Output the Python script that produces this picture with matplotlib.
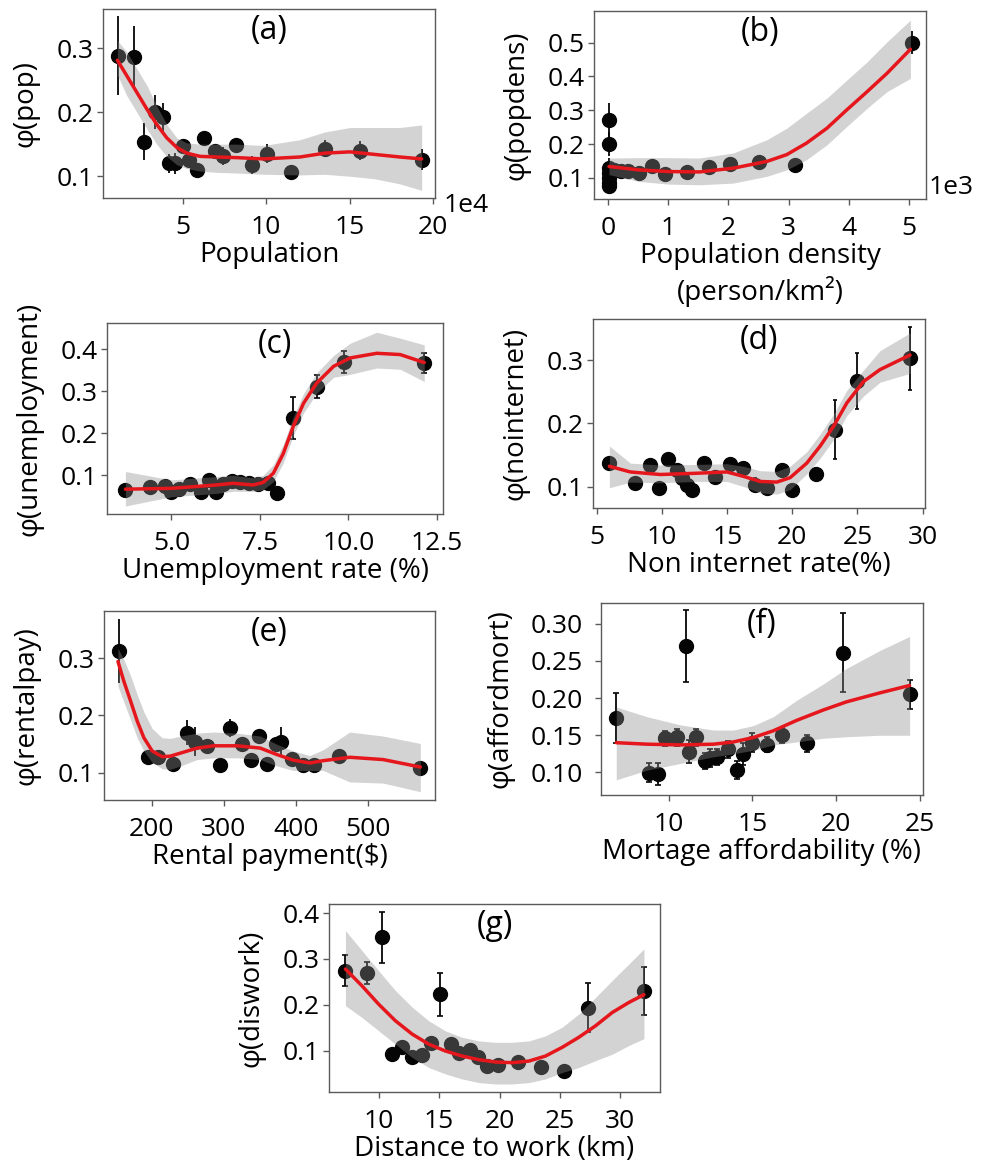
import numpy as np
import matplotlib
matplotlib.use("Agg")
import matplotlib.pyplot as plt
from matplotlib.ticker import FormatStrFormatter

plt.rcParams['font.family'] = ['Open Sans', 'DejaVu Sans']

# ---- (a) population (x in units of 1e4) ----
a_x = [1.12, 2.11, 2.71, 3.37, 3.82, 4.16, 4.56, 5.02, 5.38, 5.86, 6.29, 6.91, 7.39, 8.21, 9.14, 10.04, 11.47, 13.53, 15.62, 19.30]
a_y = [0.288, 0.286, 0.154, 0.200, 0.193, 0.120, 0.120, 0.147, 0.126, 0.110, 0.160, 0.140, 0.132, 0.149, 0.118, 0.135, 0.106, 0.143, 0.140, 0.126]
a_err = [0.062, 0.049, 0.029, 0.026, 0.022, 0.015, 0.017, 0.010, 0.010, 0.011, 0.009, 0.010, 0.014, 0.011, 0.014, 0.015, 0.012, 0.013, 0.015, 0.017]
a_cx = [1.10, 1.66, 2.26, 2.86, 3.45, 4.05, 4.65, 5.25, 6.05, 7.04, 8.24, 9.84, 12.03, 13.5, 15.0, 16.5, 18.0, 19.3]
a_cy = [0.281, 0.257, 0.231, 0.205, 0.181, 0.160, 0.145, 0.136, 0.131, 0.130, 0.129, 0.127, 0.130, 0.136, 0.138, 0.134, 0.130, 0.127]
a_lo = [0.258, 0.226, 0.200, 0.174, 0.150, 0.131, 0.118, 0.112, 0.108, 0.106, 0.105, 0.103, 0.102, 0.103, 0.100, 0.096, 0.088, 0.078]
a_hi = [0.312, 0.294, 0.268, 0.242, 0.210, 0.181, 0.160, 0.152, 0.150, 0.150, 0.150, 0.148, 0.157, 0.169, 0.176, 0.176, 0.176, 0.180]

# ---- (b) population density (x in units of 1e3) ----
b_x = [0.01, 0.01, 0.01, 0.01, 0.01, 0.01, 0.01, 0.10, 0.21, 0.32, 0.51, 0.73, 0.94, 1.31, 1.67, 2.02, 2.51, 3.11, 5.05]
b_y = [0.272, 0.201, 0.129, 0.115, 0.100, 0.085, 0.075, 0.125, 0.120, 0.122, 0.115, 0.136, 0.113, 0.117, 0.131, 0.141, 0.147, 0.139, 0.500]
b_err = [0.050, 0.035, 0.030, 0.025, 0.020, 0.015, 0.010, 0.006, 0.005, 0.005, 0.005, 0.005, 0.005, 0.005, 0.005, 0.005, 0.005, 0.005, 0.034]
b_cx = [0.01, 0.5, 1.0, 1.52, 2.08, 2.64, 2.97, 3.30, 3.64, 3.97, 4.31, 4.64, 5.03]
b_cy = [0.134, 0.124, 0.119, 0.118, 0.129, 0.149, 0.169, 0.203, 0.247, 0.301, 0.355, 0.409, 0.480]
b_lo = [0.110, 0.090, 0.082, 0.080, 0.085, 0.105, 0.124, 0.154, 0.198, 0.252, 0.306, 0.355, 0.394]
b_hi = [0.159, 0.160, 0.160, 0.159, 0.174, 0.213, 0.247, 0.291, 0.336, 0.389, 0.443, 0.502, 0.566]

# ---- (c) unemployment ----
c_x = [3.70, 4.39, 4.81, 5.00, 5.21, 5.52, 5.83, 6.06, 6.25, 6.46, 6.72, 6.95, 7.20, 7.45, 7.72, 7.97, 8.42, 9.12, 9.86, 12.14]
c_y = [0.065, 0.071, 0.075, 0.061, 0.067, 0.079, 0.061, 0.090, 0.061, 0.079, 0.087, 0.083, 0.081, 0.079, 0.081, 0.059, 0.236, 0.311, 0.369, 0.367]
c_err = [0.006, 0.005, 0.005, 0.005, 0.005, 0.005, 0.005, 0.005, 0.005, 0.005, 0.005, 0.005, 0.005, 0.005, 0.005, 0.005, 0.050, 0.028, 0.027, 0.024]
c_cx = [3.70, 5.0, 6.27, 6.74, 7.31, 7.59, 7.88, 8.16, 8.44, 8.73, 9.10, 9.58, 10.05, 10.8, 11.46, 12.14]
c_cy = [0.067, 0.069, 0.077, 0.081, 0.077, 0.083, 0.105, 0.152, 0.216, 0.271, 0.319, 0.359, 0.379, 0.390, 0.387, 0.368]
c_lo = [0.027, 0.049, 0.057, 0.062, 0.062, 0.066, 0.085, 0.130, 0.194, 0.248, 0.295, 0.333, 0.340, 0.355, 0.352, 0.323]
c_hi = [0.109, 0.089, 0.097, 0.100, 0.094, 0.100, 0.125, 0.174, 0.238, 0.294, 0.343, 0.385, 0.414, 0.440, 0.426, 0.410]

# ---- (d) non internet ----
d_x = [5.95, 7.94, 9.04, 9.78, 10.42, 11.14, 11.52, 11.91, 12.29, 13.18, 14.08, 15.23, 16.18, 17.15, 18.04, 19.19, 20.01, 21.80, 23.29, 24.95, 29.04]
d_y = [0.137, 0.106, 0.134, 0.098, 0.143, 0.126, 0.113, 0.103, 0.095, 0.137, 0.115, 0.136, 0.129, 0.103, 0.098, 0.126, 0.094, 0.120, 0.190, 0.267, 0.303]
d_err = [0.006, 0.008, 0.008, 0.008, 0.007, 0.008, 0.008, 0.008, 0.008, 0.006, 0.009, 0.008, 0.008, 0.010, 0.009, 0.009, 0.009, 0.009, 0.047, 0.045, 0.050]
d_cx = [5.95, 7.56, 9.86, 12.67, 14.97, 16.25, 17.53, 18.81, 19.83, 21.11, 22.14, 23.16, 24.18, 25.46, 26.74, 29.04]
d_cy = [0.132, 0.123, 0.119, 0.121, 0.123, 0.116, 0.108, 0.107, 0.114, 0.137, 0.164, 0.195, 0.232, 0.266, 0.285, 0.308]
d_lo = [0.098, 0.107, 0.106, 0.108, 0.108, 0.100, 0.090, 0.088, 0.095, 0.120, 0.145, 0.174, 0.212, 0.243, 0.265, 0.279]
d_hi = [0.164, 0.137, 0.134, 0.135, 0.136, 0.132, 0.125, 0.124, 0.132, 0.155, 0.183, 0.214, 0.252, 0.284, 0.315, 0.343]

# ---- (e) rental payment ----
e_x = [154.8, 194.5, 209.2, 230.0, 249.3, 259.9, 276.0, 294.5, 308.3, 324.4, 337.3, 348.8, 359.0, 372.8, 379.7, 394.5, 409.7, 424.4, 459.0, 571.9]
e_y = [0.312, 0.128, 0.128, 0.115, 0.170, 0.154, 0.147, 0.113, 0.178, 0.151, 0.123, 0.164, 0.116, 0.150, 0.154, 0.124, 0.113, 0.113, 0.130, 0.109]
e_err = [0.056, 0.006, 0.006, 0.006, 0.022, 0.025, 0.010, 0.008, 0.016, 0.010, 0.009, 0.009, 0.008, 0.010, 0.025, 0.008, 0.010, 0.008, 0.009, 0.006]
e_cx = [153.4, 161.7, 170.9, 180.1, 189.3, 200.8, 214.6, 226.1, 244.5, 262.9, 285.9, 318.2, 350.4, 372.8, 395.9, 418.9, 437.3, 474.2, 520.3, 571.9]
e_cy = [0.294, 0.259, 0.225, 0.190, 0.161, 0.138, 0.128, 0.129, 0.136, 0.143, 0.147, 0.147, 0.143, 0.132, 0.122, 0.117, 0.121, 0.127, 0.123, 0.110]
e_lo = [0.251, 0.223, 0.192, 0.161, 0.138, 0.118, 0.107, 0.106, 0.114, 0.123, 0.126, 0.126, 0.123, 0.112, 0.104, 0.104, 0.104, 0.084, 0.082, 0.067]
e_hi = [0.317, 0.297, 0.269, 0.236, 0.206, 0.177, 0.161, 0.160, 0.165, 0.169, 0.171, 0.169, 0.164, 0.150, 0.138, 0.130, 0.140, 0.171, 0.164, 0.151]

# ---- (f) mortgage affordability ----
f_x = [6.88, 8.81, 9.35, 9.76, 10.50, 11.03, 11.23, 11.65, 12.18, 12.48, 12.92, 13.57, 14.07, 14.46, 14.96, 15.89, 16.79, 18.23, 20.38, 24.38]
f_y = [0.173, 0.0996, 0.098, 0.146, 0.147, 0.270, 0.128, 0.147, 0.115, 0.119, 0.121, 0.131, 0.103, 0.125, 0.140, 0.137, 0.150, 0.139, 0.261, 0.205]
f_err = [0.034, 0.013, 0.015, 0.010, 0.011, 0.048, 0.016, 0.011, 0.011, 0.012, 0.011, 0.011, 0.012, 0.015, 0.013, 0.010, 0.010, 0.012, 0.053, 0.019]
f_cx = [6.88, 8.71, 10.69, 12.68, 13.87, 15.06, 16.25, 17.64, 19.23, 20.62, 22.60, 24.38]
f_cy = [0.140, 0.138, 0.137, 0.138, 0.141, 0.147, 0.156, 0.170, 0.184, 0.195, 0.207, 0.217]
f_lo = [0.090, 0.103, 0.112, 0.121, 0.125, 0.130, 0.137, 0.141, 0.146, 0.148, 0.150, 0.150]
f_hi = [0.188, 0.175, 0.164, 0.157, 0.157, 0.163, 0.175, 0.197, 0.219, 0.240, 0.264, 0.283]

# ---- (g) distance to work ----
g_x = [7.18, 9.03, 10.28, 11.13, 11.93, 12.76, 13.59, 14.36, 15.11, 15.97, 16.63, 17.54, 18.18, 19.00, 19.89, 21.55, 23.43, 25.36, 27.35, 31.99]
g_y = [0.274, 0.269, 0.347, 0.093, 0.108, 0.086, 0.090, 0.117, 0.223, 0.115, 0.095, 0.102, 0.086, 0.066, 0.068, 0.075, 0.064, 0.055, 0.194, 0.230]
g_err = [0.034, 0.024, 0.056, 0.004, 0.004, 0.004, 0.004, 0.004, 0.047, 0.004, 0.004, 0.004, 0.004, 0.004, 0.004, 0.004, 0.004, 0.004, 0.054, 0.053]
g_cx = [7.24, 8.62, 10.0, 11.38, 12.76, 14.14, 15.52, 16.9, 18.3, 19.67, 21.05, 22.43, 23.81, 25.19, 26.57, 27.95, 29.33, 30.71, 31.96]
g_cy = [0.278, 0.241, 0.201, 0.165, 0.136, 0.114, 0.099, 0.088, 0.080, 0.075, 0.0735, 0.077, 0.088, 0.107, 0.129, 0.154, 0.183, 0.205, 0.222]
g_lo = [0.198, 0.172, 0.143, 0.114, 0.085, 0.063, 0.049, 0.038, 0.030, 0.027, 0.027, 0.030, 0.038, 0.052, 0.063, 0.078, 0.092, 0.111, 0.126]
g_hi = [0.362, 0.318, 0.274, 0.231, 0.195, 0.165, 0.143, 0.129, 0.121, 0.118, 0.118, 0.121, 0.132, 0.151, 0.180, 0.216, 0.253, 0.289, 0.322]

W, H = 983, 1166
fig = plt.figure(figsize=(W / 100, H / 100), dpi=100)


def make_ax(l, r, t, b):
    return fig.add_axes([l / W, 1 - b / H, (r - l) / W, (b - t) / H])


def panel(ax, x, y, err, cx, cy, lo, hi, tag, xlab, ylab, xlim, ylim, xt, yt, cap=0, ypad=3):
    ax.errorbar(x, y, yerr=err, fmt='o', color='#050505', ms=10, elinewidth=1.3,
                capsize=cap, capthick=1.2, zorder=2)
    ax.fill_between(cx, lo, hi, color='0.55', alpha=0.38, lw=0, zorder=3)
    ax.plot(cx, cy, color='#e5161c', lw=2.5, zorder=4,
            solid_capstyle='round', solid_joinstyle='round')
    ax.set_xlim(*xlim)
    ax.set_ylim(*ylim)
    ax.set_xticks(xt)
    ax.set_yticks(yt)
    ax.text(0.5, 0.975, tag, transform=ax.transAxes, ha='center', va='top', fontsize=23)
    ax.set_xlabel(xlab, fontsize=20, labelpad=1, linespacing=1.25)
    ax.set_ylabel(ylab, fontsize=20, labelpad=12)
    for s in ax.spines.values():
        s.set_color('#5a5a5a')
        s.set_linewidth(1.0)
    ax.tick_params(colors='#5a5a5a', labelcolor='black', labelsize=19, length=4, width=1.0)
    ax.tick_params(axis='x', pad=8)
    ax.tick_params(axis='y', pad=ypad)


ax = make_ax(103, 435, 9, 198)
panel(ax, a_x, a_y, a_err, a_cx, a_cy, a_lo, a_hi, '(a)', 'Population', 'φ(pop)',
      (0.24, 20.1), (0.066, 0.361), [5, 10, 15, 20], [0.1, 0.2, 0.3])
fig.text(444 / W, 1 - 205 / H, '1e4', fontsize=19, va='center', ha='left')

ax = make_ax(594, 926, 11, 199)
panel(ax, b_x, b_y, b_err, b_cx, b_cy, b_lo, b_hi, '(b)', 'Population density\n(person/km²)', 'φ(popdens)',
      (-0.24, 5.29), (0.038, 0.593), [0, 1, 2, 3, 4, 5], [0.1, 0.2, 0.3, 0.4, 0.5])
fig.text(929 / W, 1 - 188 / H, '1e3', fontsize=19, va='center', ha='left')

ax = make_ax(107, 443, 323, 514)
panel(ax, c_x, c_y, c_err, c_cx, c_cy, c_lo, c_hi, '(c)', 'Unemployment rate (%)', 'φ(unemployment)',
      (3.18, 12.67), (0.008, 0.462), [5, 7.5, 10, 12.5], [0.1, 0.2, 0.3, 0.4], cap=2.5)
ax.xaxis.set_major_formatter(FormatStrFormatter('%.1f'))

ax = make_ax(593, 925, 319, 508)
panel(ax, d_x, d_y, d_err, d_cx, d_cy, d_lo, d_hi, '(d)', 'Non internet rate(%)', 'φ(nointernet)',
      (4.69, 30.19), (0.066, 0.365), [5, 10, 15, 20, 25, 30], [0.1, 0.2, 0.3], cap=1.5)

ax = make_ax(104, 435, 611, 800)
panel(ax, e_x, e_y, e_err, e_cx, e_cy, e_lo, e_hi, '(e)', 'Rental payment($)', 'φ(rentalpay)',
      (134.1, 592.2), (0.0525, 0.382), [200, 300, 400, 500], [0.1, 0.2, 0.3])

ax = make_ax(601, 923, 603, 795)
panel(ax, f_x, f_y, f_err, f_cx, f_cy, f_lo, f_hi, '(f)', 'Mortage affordability (%)', 'φ(affordmort)',
      (5.97, 25.18), (0.0696, 0.328), [10, 15, 20, 25], [0.10, 0.15, 0.20, 0.25, 0.30], cap=2.5, ypad=9)
ax.yaxis.set_major_formatter(FormatStrFormatter('%.2f'))

ax = make_ax(329, 660, 904, 1092)
panel(ax, g_x, g_y, g_err, g_cx, g_cy, g_lo, g_hi, '(g)', 'Distance to work (km)', 'φ(diswork)',
      (5.88, 33.29), (0.0095, 0.42), [10, 15, 20, 25, 30], [0.1, 0.2, 0.3, 0.4], cap=2.5)

fig.savefig('out.png', dpi=100)
